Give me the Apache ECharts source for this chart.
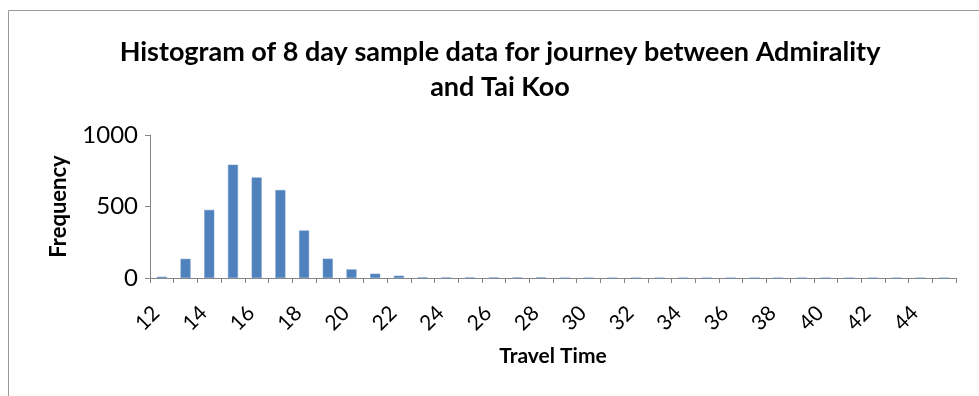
<!DOCTYPE html>
<html>
<head>
<meta charset="utf-8">
<script src="https://cdn.jsdelivr.net/npm/echarts@6/dist/echarts.min.js"></script>
<style>
  html, body { margin: 0; padding: 0; background: #fff; }
  #chart { width: 979px; height: 396px; }
</style>
</head>
<body>
<div id="chart"></div>
<script>
// Travel time bins (minutes) and how many journeys fell in each
const travelTimes = [12, 13, 14, 15, 16, 17, 18, 19, 20, 21, 22, 23, 24, 25, 26, 27, 28,
  29, 30, 31, 32, 33, 34, 35, 36, 37, 38, 39, 40, 41, 42, 43, 44, 45];
const frequencies = [9, 134, 476, 792, 703, 615, 332, 135, 60, 30, 16, 4, 3, 3, 3, 3, 4,
  0, 0, 0, 0, 0, 0, 0, 0, 0, 0, 0, 0, 0, 0, 0, 0, 0];
const yTicks = [0, 500, 1000];

const titleLines = ['Histogram of 8 day sample data for journey between Admirality', 'and Tai Koo'];
const xName = 'Travel Time';
const yName = 'Frequency';

const FONT = 'Lato, "Open Sans", sans-serif';
const AXIS_GREY = '#868686';

const chart = echarts.init(document.getElementById('chart'), null, { renderer: 'canvas' });

// Two-line centred title, drawn as text elements
const titleGraphics = titleLines.map((line, i) => ({
  type: 'text',
  x: 500,
  y: 52 + i * 35,
  silent: true,
  style: {
    text: line,
    fill: '#000',
    font: 'bold 27px ' + FONT,
    textAlign: 'center',
    textVerticalAlign: 'middle'
  }
}));

chart.setOption({
  animation: false,
  backgroundColor: '#fff',
  graphic: [{
    type: 'rect',
    shape: { x: 8.5, y: 10.5, width: 990, height: 420 },
    style: { fill: 'none', stroke: '#9a9a9a', lineWidth: 1 },
    silent: true,
    z: -1
  }].concat(titleGraphics),
  grid: { left: 150, right: 23, top: 135, bottom: 118, containLabel: false },
  xAxis: {
    type: 'category',
    data: travelTimes.map(String),
    name: xName,
    nameLocation: 'middle',
    nameGap: 68,
    nameTextStyle: { fontFamily: FONT, fontWeight: 'bold', fontSize: 21, color: '#000' },
    axisLine: { lineStyle: { color: AXIS_GREY, width: 1 } },
    axisTick: { show: true, length: 5, alignWithLabel: false, interval: 0, lineStyle: { color: AXIS_GREY } },
    axisLabel: {
      interval: 1,
      rotate: 45,
      margin: 26,
      padding: [0, 8, 0, 0],
      fontFamily: FONT,
      fontSize: 21,
      color: '#000'
    }
  },
  yAxis: {
    type: 'value',
    min: yTicks[0],
    max: yTicks[yTicks.length - 1],
    interval: yTicks[1] - yTicks[0],
    name: yName,
    nameLocation: 'middle',
    nameGap: 80,
    nameTextStyle: { fontFamily: FONT, fontWeight: 'bold', fontSize: 22, color: '#000' },
    axisLine: { show: true, lineStyle: { color: AXIS_GREY, width: 1 } },
    axisTick: { show: true, length: 5, lineStyle: { color: AXIS_GREY } },
    splitLine: { show: false },
    axisLabel: {
      margin: 12,
      fontFamily: FONT,
      fontSize: 24,
      color: '#000',
      formatter: (v) => String(v)
    }
  },
  series: [{
    type: 'bar',
    data: frequencies,
    barWidth: 10,
    itemStyle: { color: '#4F81BD', borderColor: '#6F97C8', borderWidth: 0.5 }
  }]
});
</script>
</body>
</html>
